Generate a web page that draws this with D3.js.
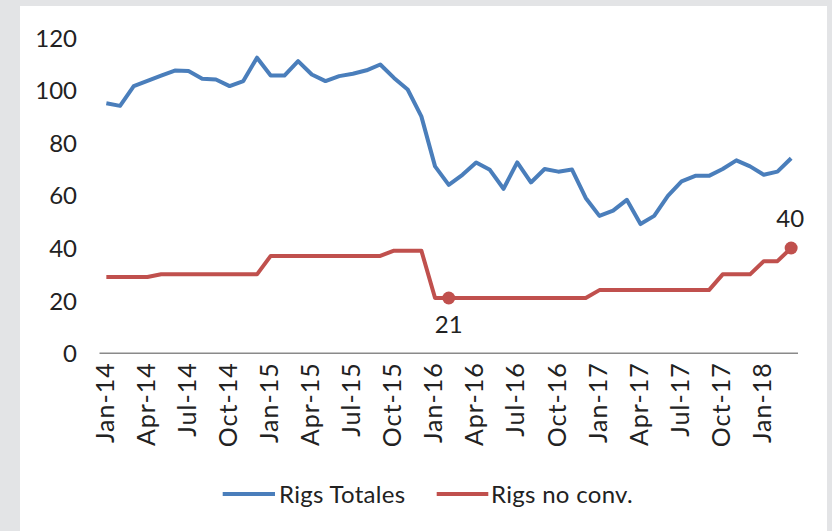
<!DOCTYPE html>
<html>
<head>
<meta charset="utf-8">
<script src="https://cdn.jsdelivr.net/npm/d3@7"></script>
<style>
  html, body { margin: 0; padding: 0; background: #e3e4e6; }
  svg { display: block; }
  text { font-family: Lato, "Open Sans", "Liberation Sans", sans-serif; fill: #222; }
</style>
</head>
<body>
<svg id="chart" width="832" height="531"></svg>
<script>
// Monthly categories, Jan-14 through Mar-18
const months = d3.utcMonth.range(new Date(Date.UTC(2014, 0, 1)), new Date(Date.UTC(2018, 3, 1)));
const monthFmt = d3.utcFormat("%b-%y");
const categories = months.map(d => monthFmt(d));

// Total active rigs
const rigsTotales = [
  95, 94, 101.5, 103.5, 105.5, 107.4, 107.2, 104.3, 104, 101.5,
  103.4, 112.3, 105.5, 105.5, 111, 105.9, 103.4, 105.3, 106.2, 107.5,
  109.7, 104.6, 100.2, 90, 71, 64, 67.8, 72.5, 69.7, 62.5,
  72.5, 64.9, 70, 69, 69.8, 59, 52.2, 54.2, 58.3, 49.1,
  52.2, 59.8, 65.3, 67.4, 67.4, 70, 73.3, 71, 67.8, 69,
  74.1
];

// Non-conventional rigs
const rigsNoConv = [
  29, 29, 29, 29, 30, 30, 30, 30, 30, 30,
  30, 30, 37, 37, 37, 37, 37, 37, 37, 37,
  37, 39, 39, 39, 21, 21, 21, 21, 21, 21,
  21, 21, 21, 21, 21, 21, 24, 24, 24, 24,
  24, 24, 24, 24, 24, 30, 30, 30, 35, 35,
  40
];

const yTicks = [0, 20, 40, 60, 80, 100, 120];
const seriesNames = ["Rigs Totales", "Rigs no conv."];
const seriesColors = ["#4a7ebb", "#c0504d"];
// Points on the non-conventional series that carry a value label
const labelledIdx = [25, 50];

const svg = d3.select("#chart");

// White chart area
svg.append("rect")
  .attr("x", 20).attr("y", 6)
  .attr("width", 807).attr("height", 525)
  .attr("fill", "#ffffff");

const x = d3.scalePoint()
  .domain(categories)
  .range([99.5, 798])
  .padding(0.5);

const y = d3.scaleLinear()
  .domain([0, 120])
  .range([353.3, 37.4]);

// Y axis labels (no axis line)
const yAxis = d3.axisLeft(y).tickValues(yTicks).tickSize(0).tickPadding(0);
const gy = svg.append("g").attr("transform", "translate(77,0)").call(yAxis);
gy.select(".domain").remove();
gy.selectAll("text")
  .attr("font-size", 24)
  .attr("font-family", "Lato, 'Open Sans', sans-serif")
  .attr("fill", "#222")
  .attr("dy", "0.36em")
  .attr("x", 0);

// X axis baseline
svg.append("line")
  .attr("x1", 99.5).attr("x2", 798)
  .attr("y1", y(0)).attr("y2", y(0))
  .attr("stroke", "#8a8a8a")
  .attr("stroke-width", 1.5);

// X tick labels, every third month, rotated
const xAxis = d3.axisBottom(x)
  .tickValues(categories.filter((d, i) => i % 3 === 0))
  .tickSize(0)
  .tickPadding(0);
const gx = svg.append("g").attr("transform", `translate(0,${y(0)})`).call(xAxis);
gx.select(".domain").remove();
gx.selectAll("text")
  .attr("font-size", 25)
  .attr("font-family", "Lato, 'Open Sans', sans-serif")
  .attr("letter-spacing", "1px")
  .attr("fill", "#222")
  .attr("text-anchor", "end")
  .attr("transform", "translate(0,9) rotate(-90)")
  .attr("x", 0)
  .attr("y", 0)
  .attr("dy", "0.27em");

// Lines
const line = d3.line()
  .x((d, i) => x(categories[i]))
  .y(d => y(d));

[rigsTotales, rigsNoConv].forEach((series, k) => {
  svg.append("path")
    .datum(series)
    .attr("d", line)
    .attr("fill", "none")
    .attr("stroke", seriesColors[k])
    .attr("stroke-width", 4)
    .attr("stroke-linejoin", "round");
});

// Markers and value labels on the non-conventional series
const marks = svg.append("g");
labelledIdx.forEach(i => {
  marks.append("circle")
    .attr("cx", x(categories[i]))
    .attr("cy", y(rigsNoConv[i]))
    .attr("r", 6.5)
    .attr("fill", seriesColors[1]);
});
marks.append("text")
  .attr("x", x(categories[25]))
  .attr("y", y(rigsNoConv[25]) + 35)
  .attr("text-anchor", "middle")
  .attr("font-size", 24)
  .text(rigsNoConv[25]);
marks.append("text")
  .attr("x", x(categories[50]) - 1)
  .attr("y", y(rigsNoConv[50]) - 21)
  .attr("text-anchor", "middle")
  .attr("font-size", 24)
  .text(rigsNoConv[50]);

// Legend
const legendItems = [
  { x1: 222.7, x2: 275, tx: 279 },
  { x1: 436.7, x2: 488.3, tx: 491 }
];
const legend = svg.append("g");
legendItems.forEach((it, k) => {
  legend.append("line")
    .attr("x1", it.x1).attr("x2", it.x2)
    .attr("y1", 494).attr("y2", 494)
    .attr("stroke", seriesColors[k])
    .attr("stroke-width", 4);
  legend.append("text")
    .attr("x", it.tx)
    .attr("y", 494)
    .attr("dy", "0.36em")
    .attr("font-size", 24)
    .attr("letter-spacing", "0.3px")
    .text(seriesNames[k]);
});
</script>
</body>
</html>
